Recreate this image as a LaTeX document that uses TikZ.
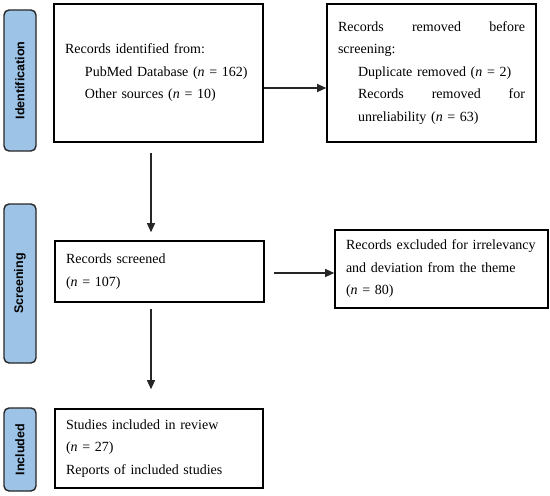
\documentclass[tikz,border=0pt]{standalone}
\usepackage{fontspec}
\setmainfont{Liberation Serif}
\newfontfamily\barfont{Liberation Sans}
\usetikzlibrary{arrows.meta}
\definecolor{barblue}{RGB}{157,195,230}
\tikzset{
  stagebar/.style={draw=black!85, line width=1.4pt, fill=barblue, rounded corners=5pt,
    rotate=90, minimum height=32pt, inner sep=0pt,
    font=\barfont\bfseries\fontsize{12.5}{14}\selectfont},
  recbox/.style={draw=black, line width=1.6pt, inner xsep=11pt, inner ysep=0pt,
    align=left, font=\fontsize{14}{22.5}\selectfont},
  flow/.style={-{Triangle[length=9pt,width=8pt]}, line width=1.1pt, draw=black!85}
}
\begin{document}
\begin{tikzpicture}[x=1pt,y=-1pt]
\useasboundingbox (0,0) rectangle (550,496);

% stage bars
\node[stagebar, minimum width=141pt] (ident) at (20,80.5) {Identification};
\node[stagebar, minimum width=159pt] (screen) at (20,283.5) {Screening};
\node[stagebar, minimum width=83pt] (incl) at (20,449.5) {Included};

% record boxes
\node[recbox, text width=187pt, minimum width=209pt, minimum height=138pt] (found) at (158.5,73)
  {Records identified from:\\
   \hspace*{20pt}PubMed Database (\textit{n} = 162)\\
   \hspace*{20pt}Other sources (\textit{n} = 10)};
\node[recbox, text width=187pt, minimum width=209pt, minimum height=138pt] (removed) at (431.5,73)
  {Records\hfill removed\hfill before\\
   screening:\\
   \hspace*{20pt}Duplicate removed (\textit{n} = 2)\\
   \hspace*{20pt}Records\hfill removed\hfill for\\
   \hspace*{20pt}unreliability (\textit{n} = 63)};
\node[recbox, text width=187pt, minimum width=209pt, minimum height=61pt] (screened) at (159.5,271.5)
  {Records screened\\
   (\textit{n} = 107)};
\node[recbox, text width=191pt, minimum width=213pt, minimum height=78pt] (excluded) at (441.5,269)
  {Records excluded for irrelevancy\\
   and deviation from the theme\\
   (\textit{n} = 80)};
\node[recbox, text width=186pt, minimum width=208pt, minimum height=79pt] (included) at (159,448.5)
  {Studies included in review\\
   (\textit{n} = 27)\\
   Reports of included studies};

% arrows
\draw[flow] ([yshift=-15pt]found.east) -- ([yshift=-15pt]removed.west);
\draw[flow] ([xshift=-7.5pt,yshift=-10pt]found.south) -- ([xshift=-8.5pt,yshift=8pt]screened.north);
\draw[flow] ([xshift=9pt,yshift=-1.5pt]screened.east) -- ([yshift=-4pt]excluded.west);
\draw[flow] ([xshift=-8.5pt,yshift=-6pt]screened.south) -- ([xshift=-8pt,yshift=19pt]included.north);
\end{tikzpicture}
\end{document}
